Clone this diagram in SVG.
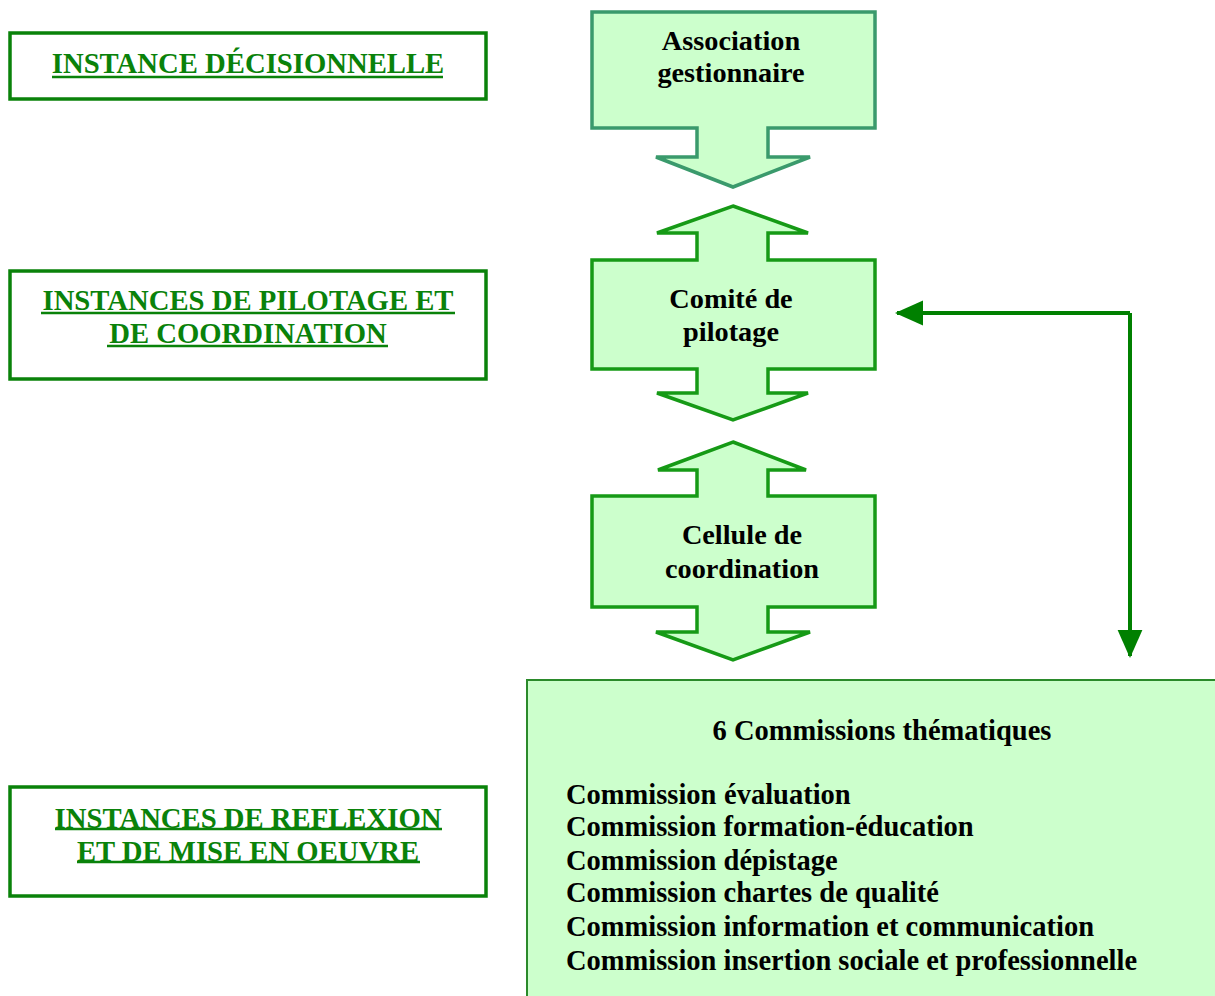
<svg xmlns="http://www.w3.org/2000/svg" width="1215" height="996" viewBox="0 0 1215 996">
<style>
.lbl{fill:none;stroke:#0a820a;stroke-width:3.5}
.ltxt{font-family:"Liberation Serif","Times New Roman",serif;font-weight:bold;font-size:28.7px;fill:#0a820a;text-anchor:middle}
.ul{stroke:#0a820a;stroke-width:2.5}
.nd{fill:#ccffcc;stroke:#169a16;stroke-width:3.5;stroke-linejoin:miter}
.nd1{fill:#ccffcc;stroke:#3a9a6c;stroke-width:3.5}
.ntxt{font-family:"Liberation Serif","Times New Roman",serif;font-weight:bold;font-size:28.3px;fill:#000;text-anchor:middle}
.ctxt{font-family:"Liberation Serif","Times New Roman",serif;font-weight:bold;font-size:28.5px;fill:#000}
.conn{fill:none;stroke:#008000;stroke-width:4}
</style>
<defs>
<marker id="ah" markerWidth="7" markerHeight="7" refX="6.5" refY="3.5" orient="auto" markerUnits="strokeWidth">
<path d="M0,0.4 L7,3.5 L0,6.6 Z" fill="#008000"/>
</marker>
</defs>
<rect width="1215" height="996" fill="#fff"/>

<g id="label-decisionnelle">
<rect class="lbl" x="10" y="33" width="476" height="66"/>
<text class="ltxt" x="248" y="73">INSTANCE DÉCISIONNELLE</text>
<line class="ul" x1="52" y1="77" x2="443" y2="77"/>
</g>
<g id="label-pilotage">
<rect class="lbl" x="10" y="271" width="476" height="108"/>
<text class="ltxt" x="248" y="310">INSTANCES DE PILOTAGE ET</text>
<line class="ul" x1="41" y1="313" x2="455" y2="313"/>
<text class="ltxt" x="248" y="343">DE COORDINATION</text>
<line class="ul" x1="107" y1="346" x2="388" y2="346"/>
</g>
<g id="label-reflexion">
<rect class="lbl" x="10" y="787" width="476" height="109"/>
<text class="ltxt" x="248" y="828">INSTANCES DE REFLEXION</text>
<line class="ul" x1="55" y1="829" x2="442" y2="829"/>
<text class="ltxt" x="248" y="861">ET DE MISE EN OEUVRE</text>
<line class="ul" x1="77" y1="862" x2="420" y2="862"/>
</g>

<g id="node-association">
<polygon class="nd1" points="592,12 875,12 875,128 768,128 768,157 810,157 733,187 656,157 697,157 697,128 592,128"/>
<text class="ntxt" x="731" y="50">Association</text>
<text class="ntxt" x="731" y="82">gestionnaire</text>
</g>
<g id="node-comite">
<polygon class="nd" points="733,206 808,233 768,233 768,260 875,260 875,369 768,369 768,393 808,393 733,420 657,393 697,393 697,369 592,369 592,260 697,260 697,233 657,233"/>
<text class="ntxt" x="731" y="308">Comité de</text>
<text class="ntxt" x="731" y="341">pilotage</text>
</g>
<g id="node-cellule">
<polygon class="nd" points="733,442 806,470 768,470 768,496 875,496 875,607 768,607 768,632 810,632 733,660 656,632 697,632 697,607 592,607 592,496 697,496 697,470 658,470"/>
<text class="ntxt" x="742" y="544">Cellule de</text>
<text class="ntxt" x="742" y="578">coordination</text>
</g>
<g id="node-commissions">
<rect x="527" y="680" width="700" height="330" fill="#ccffcc" stroke="#2a8a2a" stroke-width="2"/>
<text class="ctxt" x="882" y="740" text-anchor="middle">6 Commissions thématiques</text>
<text class="ctxt" y="804"><tspan x="566">Commission</tspan> <tspan x="724">évaluation</tspan></text>
<text class="ctxt" x="566" y="836">Commission formation-éducation</text>
<text class="ctxt" x="566" y="870">Commission dépistage</text>
<text class="ctxt" x="566" y="902">Commission chartes de qualité</text>
<text class="ctxt" x="566" y="936">Commission information et communication</text>
<text class="ctxt" x="566" y="970">Commission insertion sociale et professionnelle</text>
</g>

<g id="connectors">
<polyline class="conn" points="1130,313 897,313" marker-end="url(#ah)"/>
<polyline class="conn" points="1130,313 1130,656" marker-end="url(#ah)"/>
</g>
</svg>
